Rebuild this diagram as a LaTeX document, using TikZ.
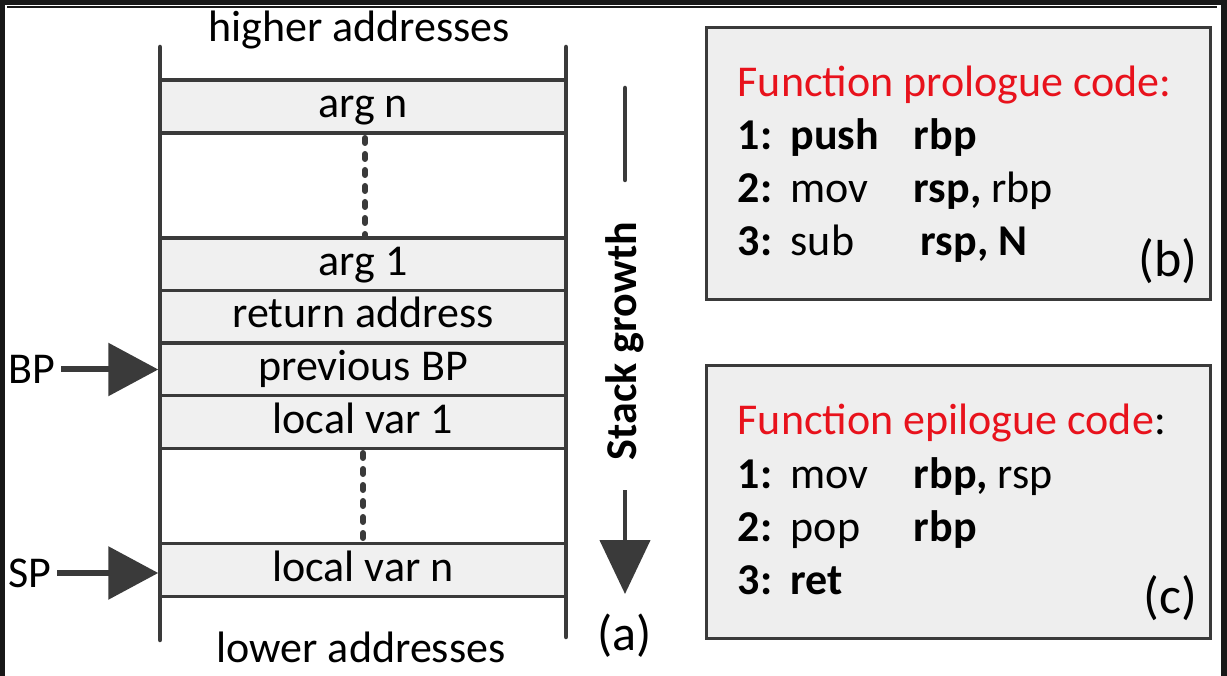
\documentclass[tikz,border=0pt]{standalone}
\usepackage{fontspec}
\setmainfont{Carlito}
\usetikzlibrary{arrows.meta}

\definecolor{framegray}{RGB}{58,58,58}
\definecolor{cellfill}{RGB}{240,240,240}
\definecolor{boxfill}{RGB}{238,238,238}
\definecolor{titlered}{RGB}{232,18,28}
\definecolor{edgeblack}{RGB}{24,24,24}

\newcommand{\bigtext}{\fontsize{44}{50}\selectfont}
\newcommand{\asmline}[4][123pt]{\makebox[53pt][l]{\bfseries #2}\makebox[#1][l]{#3}#4}

\tikzset{every picture/.style={line width=3.5pt}}

\begin{document}
\begin{tikzpicture}[x=1pt,y=1pt,yscale=-1,
    cell/.style={draw=framegray,fill=cellfill,minimum width=406pt,minimum height=53pt,inner sep=0pt,
      text height=32pt,text depth=10pt,font=\bigtext},
    label/.style={inner sep=0pt,font=\bigtext},
    codebox/.style={draw=framegray,fill=boxfill,line width=3pt},
    ptr/.style={draw=framegray,line width=6pt,-{Triangle[length=50pt,width=52pt]}},
    dots/.style={draw=framegray,line width=6pt,line cap=round,dash pattern=on 5pt off 11pt}]
        \useasboundingbox (0,0) rectangle (1227,676);
        %Screen edges
        \fill[edgeblack] (0,0) rectangle (1227,5);
        \fill[edgeblack] (0,0) rectangle (5,676);
        \fill[edgeblack] (1221,0) rectangle (1227,676);
        \draw[edgeblack,line width=1.5pt] (7,7) -- (1217,7);

        %Stack frame (a)
        \node[cell] (argn) at (363,106.5) {arg n};
        \node[cell] (argone) at (363,264.5) {arg 1};
        \node[cell] (retaddr) at (363,317) {return address};
        \node[cell] (prevbp) at (363,369.5) {previous BP};
        \node[cell] (localone) at (363,422) {local var 1};
        \node[cell] (localn) at (363,570) {local var n};
        %Straight Lines
        \draw[framegray,line width=4.5pt,line cap=round] (160,47) -- (160,640);
        \draw[framegray,line width=4.5pt,line cap=round] (566,47) -- (566,637);
        %Dotted Lines
        \draw[dots] (365,138) -- (365,236);
        \draw[dots] (363,453) -- (363,542);

        % Text Node
        \node[label,anchor=base] (higher) at (359,42) {higher addresses};
        % Text Node
        \node[label,anchor=base] (lower) at (361,662) {lower addresses};
        % Text Node
        \node[label,anchor=base west,font=\fontsize{50}{56}\selectfont] (tagA) at (596,650) {(a)};

        %Pointers
        \node[label,anchor=west] (bp) at (7,369.5) {BP};
        \node[label,anchor=west] (sp) at (7,573) {SP};
        \draw[ptr] (bp.east) ++(4,0) -- (prevbp.west);
        \draw[ptr] (sp.east) ++(4,0) -- (localn.west |- sp.east);

        %Stack growth
        \node[label,rotate=90,font=\bigtext\bfseries] (growth) at (625,341) {Stack growth};
        \coordinate (growtop) at (625,88);
        \coordinate (growend) at (625,594);
        \draw[framegray,line width=4.5pt,line cap=round] (growtop) -- (625,180);
        \draw[framegray,line width=4.5pt,-{Triangle[length=54pt,width=50pt]}] (625,490) -- (growend);

        %Prologue box (b)
        \draw[codebox] (706,28) rectangle (1210,300);
        \node[label,anchor=base west,text=titlered] (protitle) at (736,97) {Function prologue code:};
        \node[label,anchor=base west] (proone) at (736,150) {\asmline{1:}{\bfseries push}{\bfseries rbp}};
        \node[label,anchor=base west] (protwo) at (736,203) {\asmline{2:}{mov}{\textbf{rsp,} rbp}};
        \node[label,anchor=base west] (prothree) at (736,256) {\asmline[130pt]{3:}{sub}{\bfseries rsp, N}};
        \node[label,anchor=base east,font=\fontsize{52}{58}\selectfont] (tagB) at (1199,277) {(b)};

        %Epilogue box (c)
        \draw[codebox] (706,366) rectangle (1210,638);
        \node[label,anchor=base west] (epititle) at (736,435) {\textcolor{titlered}{Function epilogue code}:};
        \node[label,anchor=base west] (epione) at (736,488) {\asmline{1:}{mov}{\textbf{rbp,} rsp}};
        \node[label,anchor=base west] (epitwo) at (736,541) {\asmline{2:}{pop}{\bfseries rbp}};
        \node[label,anchor=base west] (epithree) at (736,594) {\asmline{3:}{\bfseries ret}{}};
        \node[label,anchor=base east,font=\fontsize{52}{58}\selectfont] (tagC) at (1199,613) {(c)};
\end{tikzpicture}
\end{document}
